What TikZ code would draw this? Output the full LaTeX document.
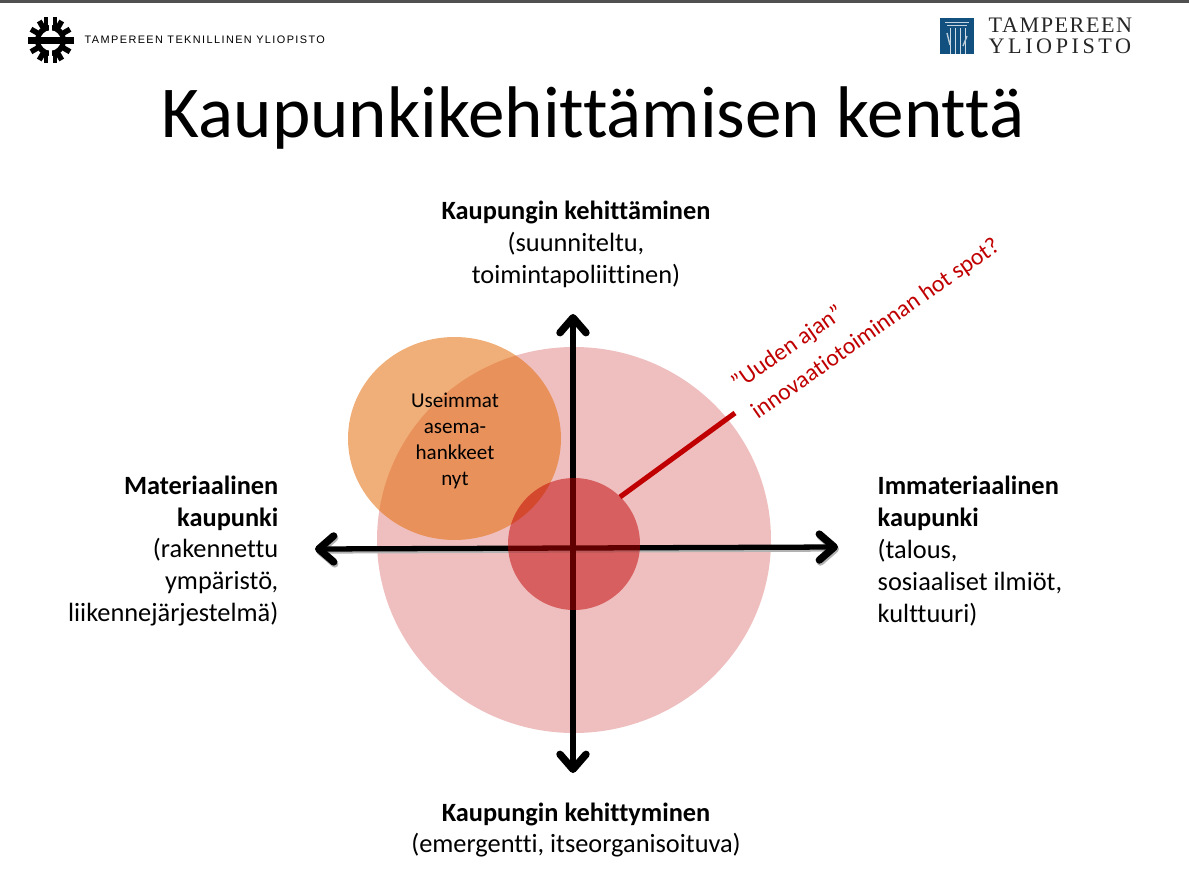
\documentclass[tikz,border=0pt]{standalone}
\usepackage{fontspec}
\setmainfont[Ligatures=NoCommon]{Carlito}
\newfontfamily\tutfont[LetterSpace=13]{Liberation Sans}
\newfontfamily\unifont[LetterSpace=7]{Liberation Serif}
\newfontfamily\unifontb[LetterSpace=16]{Liberation Serif}
\usepackage{xcolor}
\usetikzlibrary{calc,arrows.meta}
\definecolor{redbase}{HTML}{C00000}
\definecolor{hotred}{HTML}{C00000}
\definecolor{orangebase}{HTML}{E46C0A}
\definecolor{barcol}{HTML}{505050}
\definecolor{unicol}{HTML}{11507F}
\tikzset{
  axis/.style={draw=black, line width=1.5pt, line cap=round, {Straight Barb[round,length=1.5mm,width=2.6mm,line width=2.1pt]}-{Straight Barb[round,length=1.5mm,width=2.6mm,line width=2.1pt]}},
  axshadow/.style={axis, draw=black!30},
  lab/.style={inner sep=0pt, font=\fontsize{7.5}{9.1}\selectfont},
  labc/.style={lab, align=center},
  labr/.style={lab, align=right, anchor=east},
  labl/.style={lab, align=left, anchor=west},
  hot/.style={draw=hotred, line width=1.45pt},
}
\begin{document}
\begin{tikzpicture}
  \useasboundingbox (0,0) rectangle (11.89,8.91);
  \fill[barcol] (0,8.88) rectangle (11.89,8.91);
  % logos
  \begin{scope}[shift={(0.505,8.505)}]
    \foreach \a in {30,60,120,150,210,240,300,330}
      \fill[black,rotate=\a] (0.13,-0.027) rectangle (0.225,0.027);
    \foreach \a in {0,180}
      \fill[black,rotate=\a] (0.13,-0.04) rectangle (0.23,0.04);
    \foreach \x in {-0.045,0.045} {
      \fill[black] (\x-0.022,0.1) rectangle (\x+0.022,0.23);
      \fill[black] (\x-0.022,-0.23) rectangle (\x+0.022,-0.1);
    }
    \draw[black,line width=1.5pt] (0,0) circle (0.13);
    \fill[white] (-0.012,0.08) rectangle (0.012,0.23);
    \fill[white] (-0.012,-0.23) rectangle (0.012,-0.08);
    \fill[black] (-0.14,-0.04) rectangle (0.14,0.04);
  \end{scope}
  \node[inner sep=0pt,anchor=west,font=\tutfont\fontsize{3.1}{4}\selectfont] (tut) at (0.84,8.51) {TAMPEREEN TEKNILLINEN YLIOPISTO};
  \fill[unicol] (9.4,8.37) rectangle (9.74,8.73);
  \fill[white!75!unicol] (9.45,8.68) rectangle (9.69,8.69);
  \fill[white!75!unicol] (9.47,8.65) rectangle (9.67,8.66);
  \foreach \x in {9.5,9.55,9.6,9.65}
    \fill[white!80!unicol] (\x,8.37) rectangle (\x+0.008,8.63);
  \draw[white!70!unicol,line width=0.4pt] (9.47,8.58) -- (9.5,8.46);
  \draw[white!70!unicol,line width=0.4pt] (9.67,8.55) -- (9.63,8.45);
  \node[inner sep=0pt,anchor=base west,font=\unifont\fontsize{6.3}{7}\selectfont,text=black!85] (uni1) at (9.88,8.58) {TAMPEREEN};
  \node[inner sep=0pt,anchor=base west,font=\unifontb\fontsize{6.3}{7}\selectfont,text=black!85] (uni2) at (9.88,8.37) {YLIOPISTO};
  % title
  \node[inner sep=0pt,font=\fontsize{20.8}{24}\selectfont] (title) at (5.93,7.73) {Kaupunkikehittämisen kenttä};
  % circles and axes
  \fill[redbase,opacity=0.25] (5.74,3.51) ellipse (1.97 and 1.93);
  \coordinate (N) at (5.73,5.77);
  \coordinate (S) at (5.73,1.18);
  \coordinate (W) at (3.15,3.42);
  \coordinate (E) at (8.38,3.44);
  \draw[axshadow] ($(W)+(0.01,-0.02)$) -- ($(E)+(0.01,-0.02)$);
  \draw[axis] (W) -- (E);
  \draw[axis] (S) -- (N);
  \fill[orangebase,opacity=0.55] (4.545,4.525) ellipse (1.065 and 1.015);
  \fill[redbase,opacity=0.5] (5.74,3.47) circle (0.66);
  \coordinate (hotA) at (6.2,3.94);
  \coordinate (hotB) at (7.35,4.78);
  \draw[hot] (hotA) -- (hotB);
  % labels
  \node[labc] (top) at (5.76,6.47) {\textbf{Kaupungin kehittäminen}\\(suunniteltu,\\toimintapoliittinen)};
  \node[labc] (bottom) at (5.76,0.61) {\textbf{Kaupungin kehittyminen}\\(emergentti, itseorganisoituva)};
  \node[labr] (left) at (2.79,3.40) {\textbf{Materiaalinen}\\\textbf{kaupunki}\\(rakennettu\\ympäristö,\\liikennejärjestelmä)};
  \node[labl] (right) at (8.77,3.40) {\textbf{Immateriaalinen}\\\textbf{kaupunki}\\(talous,\\sosiaaliset ilmiöt,\\kulttuuri)};
  \node[inner sep=0pt,align=center,font=\fontsize{6.0}{7.4}\selectfont] (most) at (4.55,4.50) {Useimmat\\asema-\\hankkeet\\nyt};
  \node[inner sep=0pt,align=left,rotate=35,text=hotred,font=\fontsize{6.75}{9.8}\selectfont] (hottext) at (8.66,5.76) {”Uuden ajan”\\innovaatiotoiminnan hot spot?};
\end{tikzpicture}
\end{document}
